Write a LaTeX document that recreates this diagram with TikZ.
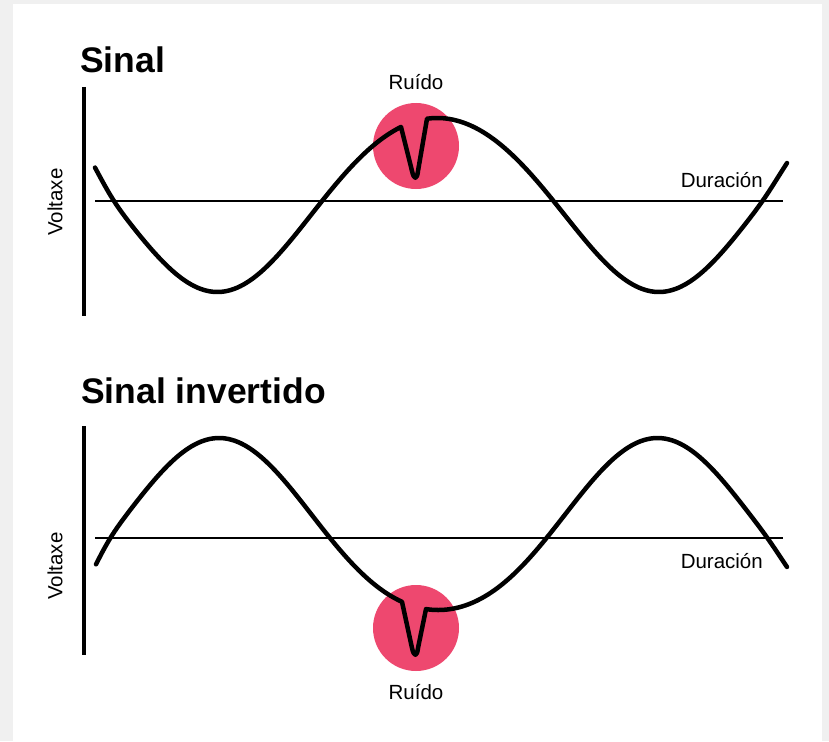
\documentclass[tikz,border=0pt]{standalone}
\usepackage{fontspec}
\setmainfont{Liberation Sans}
\definecolor{noisered}{RGB}{238,72,111}
\definecolor{pagegray}{RGB}{240,240,240}
\begin{document}
\begin{tikzpicture}[x=1pt,y=-1pt,
  declare function={
    sp(\u)=max(\u,0)+ln(1+exp(-min(abs(\u),9)));
    thA(\t)=(\t-112)/441.5*360;
    phA(\t)=thA(\t)+4.383*(1-cos(thA(\t)));
    sigA(\t)=201+87*sin(phA(\t))+4*pow(sin(phA(\t)),2)-4.5*sp((112-\t)/6)-2.7*sp((\t-765)/6);
    thB(\t)=(\t-108)/438.5*360;
    phB(\t)=thB(\t)-1.13*(1-cos(thB(\t)));
    sigB(\t)=538-86*sin(phB(\t))-14*pow(sin(phB(\t)),2)+5.64*sp((108-\t)/6)+2.4*sp((\t-769)/6);
  },
  wave/.style={line width=4.5pt, line join=round, line cap=round},
  axisv/.style={line width=3.2pt},
  axish/.style={line width=2pt},
  lbl/.style={font=\fontsize{20.5}{24}\selectfont, inner sep=0pt},
  ttl/.style={font=\fontsize{35.5}{40}\selectfont\bfseries, inner sep=0pt, anchor=base west},
  noise/.style={fill=noisered, draw=none}]
\useasboundingbox (0,0) rectangle (829,741);
\fill[pagegray] (0,0) rectangle (829,741);
\fill[white] (13,4) rectangle (822,741);

% ---------- top panel ----------
\node[ttl] (t1) at (80,73) {Sinal};
\fill[noise] (416,146) circle[radius=43];
\coordinate (v1a) at (84,87);
\coordinate (v1b) at (84,316);
\coordinate (h1a) at (95,201);
\coordinate (h1b) at (783,201);
\draw[axisv] (v1a) -- (v1b);
\draw[axish] (h1a) -- (h1b);
\draw[wave]
  plot[domain=95:401,samples=100] (\x,{sigA(\x)})
  -- (412,171) .. controls (414,180) and (417,180) .. (418,171)
  -- plot[domain=427:787,samples=120] (\x,{sigA(\x)});
\node[lbl] (r1) at (416,82) {Ruído};
\node[lbl, anchor=east] (d1) at (763,180) {Duración};
\node[lbl, rotate=90] (y1) at (55,202) {Voltaxe};

% ---------- bottom panel ----------
\node[ttl] (t2) at (81,403) {Sinal invertido};
\fill[noise] (416,628) circle[radius=43];
\coordinate (v2a) at (84,426);
\coordinate (v2b) at (84,655);
\coordinate (h2a) at (95,538);
\coordinate (h2b) at (783,538);
\draw[axisv] (v2a) -- (v2b);
\draw[axish] (h2a) -- (h2b);
\draw[wave]
  plot[domain=96:402,samples=100] (\x,{sigB(\x)})
  -- (412,648) .. controls (414,657) and (417,657) .. (418,648)
  -- plot[domain=426:787,samples=120] (\x,{sigB(\x)});
\node[lbl] (r2) at (416,692) {Ruído};
\node[lbl, anchor=east] (d2) at (763,561) {Duración};
\node[lbl, rotate=90] (y2) at (55,566) {Voltaxe};
\end{tikzpicture}
\end{document}
